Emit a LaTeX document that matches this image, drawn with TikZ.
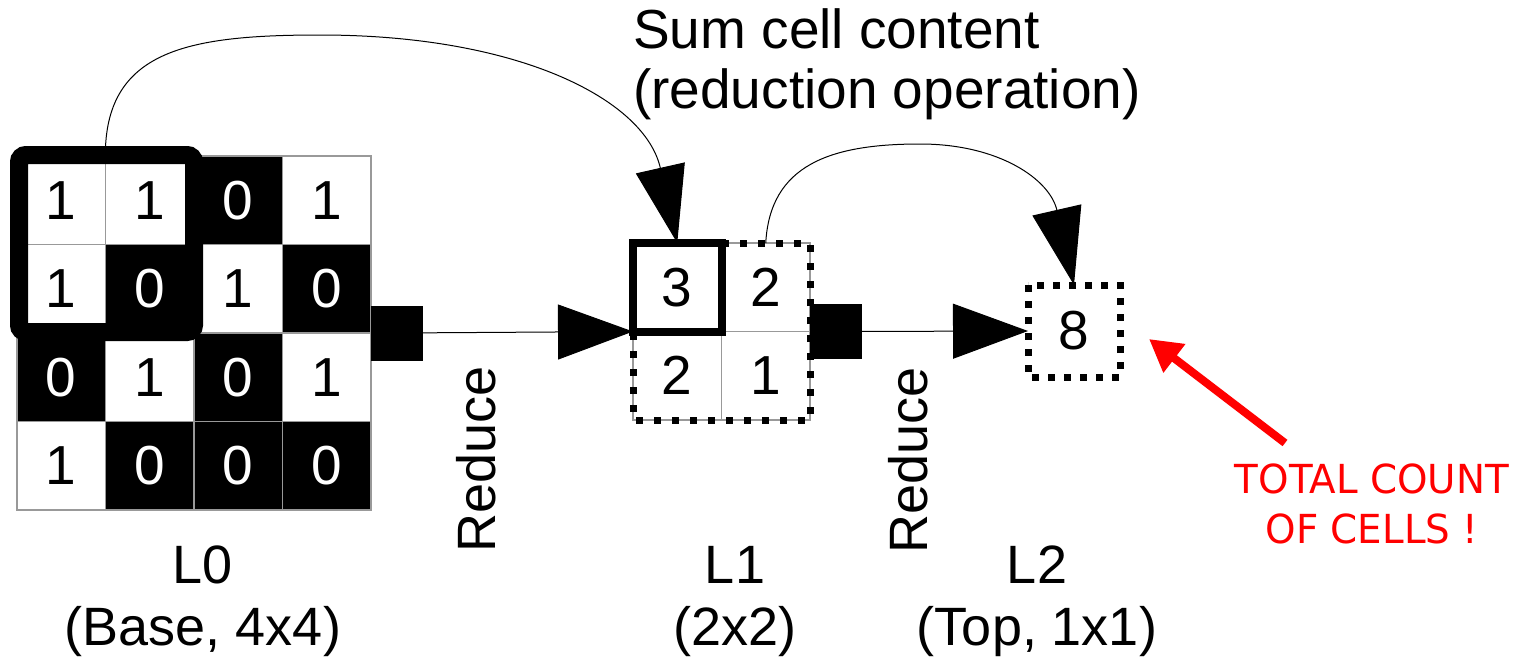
\documentclass[tikz,border=0pt]{standalone}
\usepackage{fontspec}
\setmainfont{Liberation Sans}
\newfontfamily\notefont[FakeStretch=0.97]{DejaVu Sans}
\usetikzlibrary{arrows.meta}

\begin{document}
\begin{tikzpicture}[x=1pt, y=-1pt,
    cell/.style={draw=gray!80, line width=1.5pt, minimum size=88.5pt, inner sep=0pt, outer sep=0pt, font=\fontsize{55}{62}\selectfont},
    port/.style={fill=black, minimum width=52pt, minimum height=55pt, inner sep=0pt, outer sep=0pt},
    dotbox/.style={line width=7pt, dash pattern=on 7pt off 11pt},
    flow/.style={line width=1pt, -{Triangle[length=75pt,width=55pt]}},
    hop/.style={line width=1pt, -{Triangle[length=77pt,width=50pt]}},
    pointer/.style={red, line width=8pt, -{Triangle[length=32pt,width=34pt]}},
    label/.style={font=\fontsize{54}{62}\selectfont, align=center, inner sep=0pt},
    ]
  \useasboundingbox (0,0) rectangle (1515,656);
  \def\cs{88.5}

  \foreach \vals [count=\r from 0] in {{1,1,0,1},{1,0,1,0},{0,1,0,1},{1,0,0,0}}
    \foreach \v [count=\c from 0] in \vals {
      \ifnum\v=0 \def\bg{black}\def\fg{white}\else \def\bg{white}\def\fg{black}\fi
      \node[cell, fill=\bg, text=\fg] (a\r\c) at ({17+\cs*(\c+0.5)}, {156+\cs*(\r+0.5)}) {\v};
    }
  \draw[line width=18pt, rounded corners=7pt] ([shift={(2pt,1pt)}]a00.north west) rectangle ([shift={(0pt,1pt)}]a11.south east);

  \foreach \v/\r/\c in {3/0/0, 2/0/1, 2/1/0, 1/1/1}
    \node[cell] (b\r\c) at ({633+\cs*(\c+0.5)}, {243+\cs*(\r+0.5)}) {\v};
  \draw[dotbox] (b00.north west) rectangle (b11.south east);
  \draw[line width=8pt] (b00.north west) rectangle (b00.south east);

  \node[cell, draw=none, minimum size=92pt] (top) at (1074,331) {8};
  \draw[dotbox, dash pattern=on 7pt off 9pt] (top.north west) rectangle (top.south east);

  \node[port, anchor=west] (p0) at (a13.south east) {};
  \node[port, anchor=west] (p1) at (b01.south east) {};

  \draw[flow] (p0) -- (b00.south west);
  \draw[flow] (p1) -- (top.west);
  \draw[hop] ([yshift=9pt]a00.north east) .. controls (110,50) and (190,35) .. (320,35)
    .. controls (520,35) and (645,100) .. (b00.north);
  \draw[hop] (b01.north) .. controls (770,165) and (830,144) .. (920,144)
    .. controls (1000,144) and (1050,180) .. (top.north);

  \node[label, font=\fontsize{55}{60}\selectfont, align=left, anchor=base west] (sum) at (633,108) {Sum cell content\\(reduction operation)};
  \node[label, rotate=90, anchor=base] (r0) at (495,459) {Reduce};
  \node[label, rotate=90, anchor=base] (r1) at (927,460) {Reduce};
  \node[label, anchor=base] (l0) at (203,645) {L0\\(Base, 4x4)};
  \node[label, anchor=base] (l1) at (735,645) {L1\\(2x2)};
  \node[label, anchor=base] (l2) at (1037,645) {L2\\(Top, 1x1)};

  \node[font=\notefont\fontsize{40}{50}\selectfont, text=red, align=center, anchor=base] (msg) at (1372,543) {TOTAL COUNT\\OF CELLS !};
  \coordinate (tail) at (1285,443);
  \coordinate (head) at (1149,339);
  \draw[pointer] (tail) -- (head);
\end{tikzpicture}
\end{document}
